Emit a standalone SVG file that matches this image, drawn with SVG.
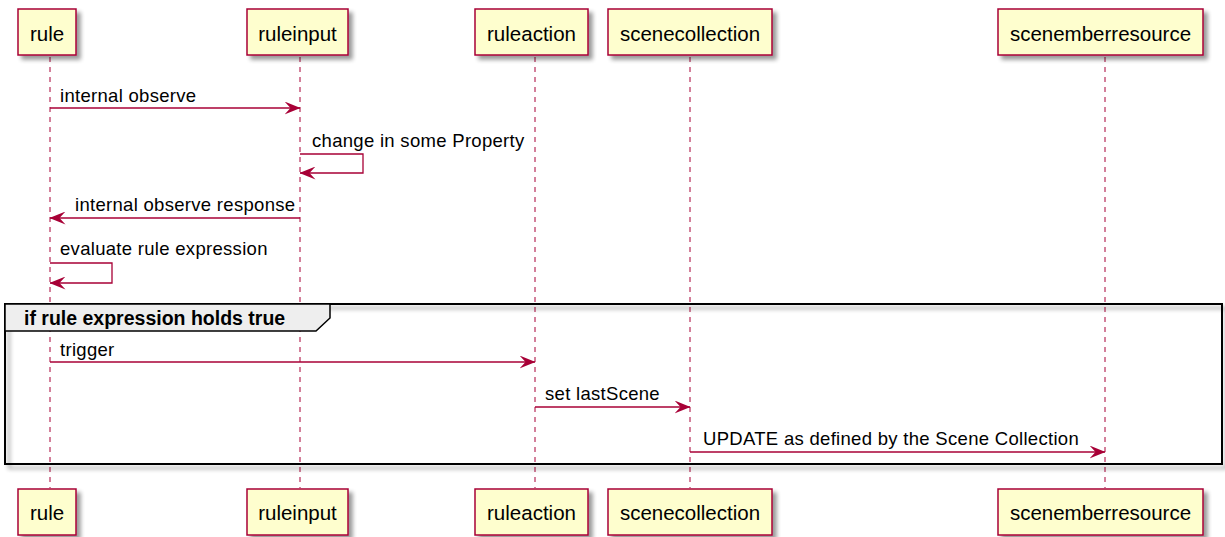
<svg xmlns="http://www.w3.org/2000/svg" width="1225" height="537" viewBox="0 0 1225 537">
<defs>
<filter id="sh" x="-20%" y="-20%" width="150%" height="160%">
<feGaussianBlur in="SourceAlpha" stdDeviation="2"/>
<feOffset dx="4" dy="4" result="b"/>
<feComponentTransfer><feFuncA type="linear" slope="0.4"/></feComponentTransfer>
<feMerge><feMergeNode/><feMergeNode in="SourceGraphic"/></feMerge>
</filter>
<marker id="ah" viewBox="0 0 16 13" refX="15.5" refY="6.5" markerWidth="16" markerHeight="13" markerUnits="userSpaceOnUse" orient="auto">
<path d="M0,0 L16,6.5 L0,13 L6,6.5 Z" fill="#A80036"/>
</marker>
</defs>
<style>
.box{fill:#FEFECE;stroke:#A80036;stroke-width:1.5}
.pt{font-family:"Liberation Sans",Arial,sans-serif;font-size:20.5px;fill:#000;text-anchor:middle}
.life{stroke:#A80036;stroke-width:1;stroke-dasharray:5,5;fill:none}
.msg{stroke:#A80036;stroke-width:1.3;fill:none}
.ml{font-family:"Liberation Sans",Arial,sans-serif;font-size:18.5px;letter-spacing:0.3px;fill:#000}
.frame{fill:none;stroke:#000;stroke-width:2}
.gh{fill:#EEEEEE;stroke:#000;stroke-width:1.5}
.gt{font-family:"Liberation Sans",Arial,sans-serif;font-size:19.5px;font-weight:bold;fill:#000}
</style>
<rect width="1225" height="537" fill="#FFFFFF"/>
<g id="lifelines">
<line class="life" x1="50" y1="57" x2="50" y2="488"/>
<line class="life" x1="300" y1="57" x2="300" y2="488"/>
<line class="life" x1="535" y1="57" x2="535" y2="488"/>
<line class="life" x1="690" y1="57" x2="690" y2="488"/>
<line class="life" x1="1105" y1="57" x2="1105" y2="488"/>
</g>
<g id="group-if">
<rect class="frame" x="5" y="304" width="1217" height="160" filter="url(#sh)"/>
<path class="gh" d="M5,304 L330,304 L330,318 L316,331 L5,331 Z"/>
<text class="gt" x="24" y="325">if rule expression holds true</text>
</g>
<g id="rule">
<rect class="box" x="18" y="9" width="58" height="46" filter="url(#sh)"/>
<text class="pt" x="47" y="41">rule</text>
<rect class="box" x="18" y="489" width="58" height="46" filter="url(#sh)"/>
<text class="pt" x="47" y="520">rule</text>
</g>
<g id="ruleinput">
<rect class="box" x="247" y="9" width="101" height="46" filter="url(#sh)"/>
<text class="pt" x="297.5" y="41">ruleinput</text>
<rect class="box" x="247" y="489" width="101" height="46" filter="url(#sh)"/>
<text class="pt" x="297.5" y="520">ruleinput</text>
</g>
<g id="ruleaction">
<rect class="box" x="475" y="9" width="113" height="46" filter="url(#sh)"/>
<text class="pt" x="531.5" y="41">ruleaction</text>
<rect class="box" x="475" y="489" width="113" height="46" filter="url(#sh)"/>
<text class="pt" x="531.5" y="520">ruleaction</text>
</g>
<g id="scenecollection">
<rect class="box" x="608" y="9" width="164" height="46" filter="url(#sh)"/>
<text class="pt" x="690" y="41">scenecollection</text>
<rect class="box" x="608" y="489" width="164" height="46" filter="url(#sh)"/>
<text class="pt" x="690" y="520">scenecollection</text>
</g>
<g id="scenemberresource">
<rect class="box" x="998" y="9" width="205" height="46" filter="url(#sh)"/>
<text class="pt" x="1100.5" y="41">scenemberresource</text>
<rect class="box" x="998" y="489" width="205" height="46" filter="url(#sh)"/>
<text class="pt" x="1100.5" y="520">scenemberresource</text>
</g>
<g id="connectors">
<line class="msg" x1="50" y1="108" x2="300" y2="108" marker-end="url(#ah)"/>
<text class="ml" x="60" y="102">internal observe</text>
<polyline class="msg" points="300,154 363,154 363,173 300,173" marker-end="url(#ah)"/>
<text class="ml" x="312" y="147">change in some Property</text>
<line class="msg" x1="300" y1="218" x2="50" y2="218" marker-end="url(#ah)"/>
<text class="ml" x="75" y="211">internal observe response</text>
<polyline class="msg" points="50,263 112,263 112,283 50,283" marker-end="url(#ah)"/>
<text class="ml" x="60" y="255">evaluate rule expression</text>
<line class="msg" x1="50" y1="362" x2="535" y2="362" marker-end="url(#ah)"/>
<text class="ml" x="60" y="356">trigger</text>
<line class="msg" x1="535" y1="407" x2="690" y2="407" marker-end="url(#ah)"/>
<text class="ml" x="545" y="400">set lastScene</text>
<line class="msg" x1="690" y1="452" x2="1105" y2="452" marker-end="url(#ah)"/>
<text class="ml" x="703" y="445">UPDATE as defined by the Scene Collection</text>
</g>
</svg>
